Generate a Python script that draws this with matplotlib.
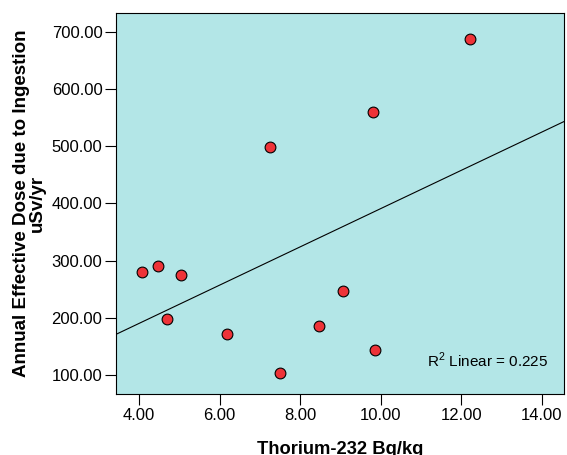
import numpy as np
import matplotlib
matplotlib.use("Agg")
import matplotlib.pyplot as plt

plt.rcParams['font.family'] = ['Liberation Sans', 'DejaVu Sans']
plt.rcParams['mathtext.fontset'] = 'custom'
plt.rcParams['mathtext.rm'] = 'Liberation Sans'

# Thorium-232 activity (Bq/kg) and annual effective dose (uSv/yr)
thorium = [4.07, 4.46, 5.04, 4.70, 6.19, 7.25, 7.51, 8.46, 9.07, 9.82, 9.85, 12.23]
dose = [280.5, 289.8, 274.7, 197.7, 171.5, 497.8, 103.9, 186.1, 246.7, 560.2, 144.1, 687.8]

x_ticks = [4, 6, 8, 10, 12, 14]
y_ticks = [100, 200, 300, 400, 500, 600, 700]

fig = plt.figure(figsize=(5.67, 4.55), dpi=100)
ax = fig.add_axes([0.2051, 0.1334, 0.790, 0.8387])
ax.set_facecolor('#b3e6e7')

# linear fit
slope, intercept = np.polyfit(thorium, dose, 1)
xl = np.array([3.436, 14.56])
ax.plot(xl, slope * xl + intercept, color='black', lw=0.8, zorder=2)

ax.scatter(thorium, dose, s=60, color='#ee3338', edgecolor='black',
           linewidth=0.8, zorder=3)

ax.set_xlim(3.436, 14.56)
ax.set_ylim(66.3, 733.2)
ax.set_xticks(x_ticks)
ax.set_yticks(y_ticks)
ax.set_xticklabels([f"{v:.2f}" for v in x_ticks])
ax.set_yticklabels([f"{v:.2f}" for v in y_ticks])
ax.tick_params(direction='out', length=8, width=0.8, labelsize=12, pad=2)

for s in ax.spines.values():
    s.set_linewidth(0.8)

ax.set_xlabel('Thorium-232 Bq/kg', fontsize=13.2, fontweight='bold', labelpad=13)
ax.set_ylabel('Annual Effective Dose due to Ingestion\nuSv/yr', fontsize=13.5,
              fontweight='bold', labelpad=4, linespacing=0.95,
              multialignment='center')

ax.text(0.965, 0.09, r'R$^2$ Linear = 0.225', transform=ax.transAxes,
        ha='right', va='center', fontsize=11)

fig.savefig('out.png', dpi=100)
